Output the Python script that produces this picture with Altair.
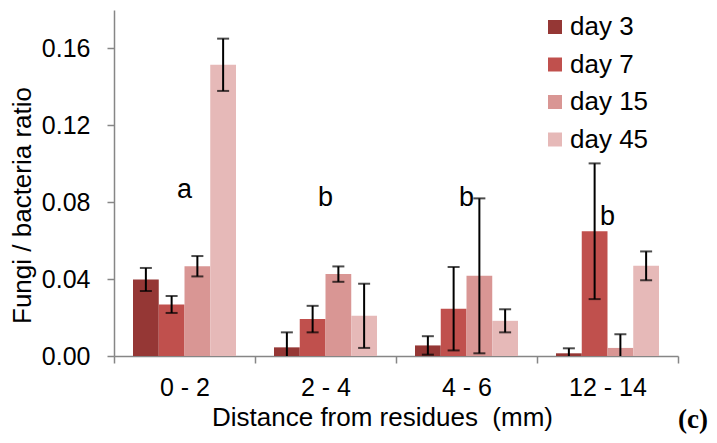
import altair as alt
import pandas as pd

distances = ["0 - 2", "2 - 4", "4 - 6", "12 - 14"]
days = ["day 3", "day 7", "day 15", "day 45"]
day3 = [0.0398, 0.0045, 0.0055, 0.0014]
day3_err = [0.0060, 0.0078, 0.0048, 0.0026]
day7 = [0.0268, 0.0192, 0.0246, 0.0649]
day7_err = [0.0044, 0.0069, 0.0217, 0.0353]
day15 = [0.0467, 0.0426, 0.0417, 0.0042]
day15_err = [0.0053, 0.0040, 0.0403, 0.0071]
day45 = [0.1515, 0.0209, 0.0183, 0.0469]
day45_err = [0.0136, 0.0167, 0.0060, 0.0075]
letters = ["a", "b", "b", "b"]
letter_y = [0.082, 0.078, 0.078, 0.068]
colors = ["#953735", "#C0504D", "#D99694", "#E6B9B8"]
y_ticks = [0, 0.04, 0.08, 0.12, 0.16]

rows = []
for day, vals, errs in zip(days, [day3, day7, day15, day45],
                           [day3_err, day7_err, day15_err, day45_err]):
    for d, v, e in zip(distances, vals, errs):
        rows.append({"distance": d, "day": day, "value": v,
                     "lo": v - e, "hi": v + e})
df = pd.DataFrame(rows)
letters_df = pd.DataFrame({"distance": distances, "letter": letters, "y": letter_y})
tag_df = pd.DataFrame({"label": ["(c)"]})

FONT = "Liberation Sans"
GRAY = "#868686"

x_enc = alt.X("distance:N", sort=distances,
              scale=alt.Scale(paddingInner=0, paddingOuter=0),
              axis=alt.Axis(title="Distance from residues \u00a0(mm)", labelAngle=0,
                            tickBand="extent", tickSize=7, labelPadding=12,
                            labelFontSize=25, titleFontSize=26, titleFontWeight="normal",
                            labelColor="black", titleColor="black",
                            domainColor=GRAY, tickColor=GRAY, domainWidth=1.5, tickWidth=1.5,
                            titleX=268, titleY=69, titleBaseline="alphabetic",
                            titleAlign="center", labelFont=FONT, titleFont=FONT))
xoff_enc = alt.XOffset("day:N", sort=days,
                       scale=alt.Scale(paddingOuter=0.738, paddingInner=0))
y_scale = alt.Scale(domain=[0, 0.18], nice=False)
y_axis = alt.Axis(values=y_ticks, format=".2f", title="Fungi / bacteria ratio", grid=False,
                  tickSize=7, labelPadding=17, labelFontSize=25, titleFontSize=26,
                  titleFontWeight="normal", labelColor="black", titleColor="black",
                  domainColor=GRAY, tickColor=GRAY, domainWidth=1.5, tickWidth=1.5,
                  titleX=-92, titleY=195, titleAlign="center", titleBaseline="middle",
                  titleAngle=-90, labelFont=FONT, titleFont=FONT)

base = alt.Chart(df)

bars = base.mark_bar().encode(
    x=x_enc,
    xOffset=xoff_enc,
    y=alt.Y("value:Q", scale=y_scale, axis=y_axis),
    color=alt.Color("day:N", sort=days,
                    scale=alt.Scale(domain=days, range=colors),
                    legend=alt.Legend(orient="none", legendX=428, legendY=4, title=None,
                                      symbolType="square", symbolSize=196,
                                      symbolStrokeWidth=0, symbolOpacity=1,
                                      labelFontSize=26, labelOffset=2, rowPadding=11.5,
                                      labelFont=FONT, labelColor="black")),
)

rules = base.mark_rule(color="black", strokeWidth=2, clip=True).encode(
    x=alt.X("distance:N", sort=distances),
    xOffset=xoff_enc,
    y=alt.Y("lo:Q", scale=y_scale),
    y2="hi:Q",
)
caps_lo = base.mark_tick(color="black", size=12, thickness=2, clip=True).encode(
    x=alt.X("distance:N", sort=distances),
    xOffset=xoff_enc,
    y=alt.Y("lo:Q", scale=y_scale),
)
caps_hi = base.mark_tick(color="black", size=12, thickness=2, clip=True).encode(
    x=alt.X("distance:N", sort=distances),
    xOffset=xoff_enc,
    y=alt.Y("hi:Q", scale=y_scale),
)

letter_text = alt.Chart(letters_df).mark_text(
    fontSize=27, baseline="alphabetic", align="center", color="black", font=FONT
).encode(
    x=alt.X("distance:N", sort=distances),
    y=alt.Y("y:Q", scale=y_scale),
    text="letter:N",
)

tag = alt.Chart(tag_df).mark_text(
    fontSize=27, font="Liberation Serif", fontWeight="bold", align="right",
    baseline="alphabetic", color="black"
).encode(x=alt.value(594), y=alt.value(418), text="label:N")

chart = alt.layer(bars, rules, caps_lo, caps_hi, letter_text, tag).properties(
    width=564, height=346,
    autosize=alt.AutoSizeParams(type="none"),
    padding={"left": 106, "top": 2, "right": 31, "bottom": 79},
).configure_view(stroke=None)

chart.save("out.html", embed_options={"renderer": "svg", "actions": False})
